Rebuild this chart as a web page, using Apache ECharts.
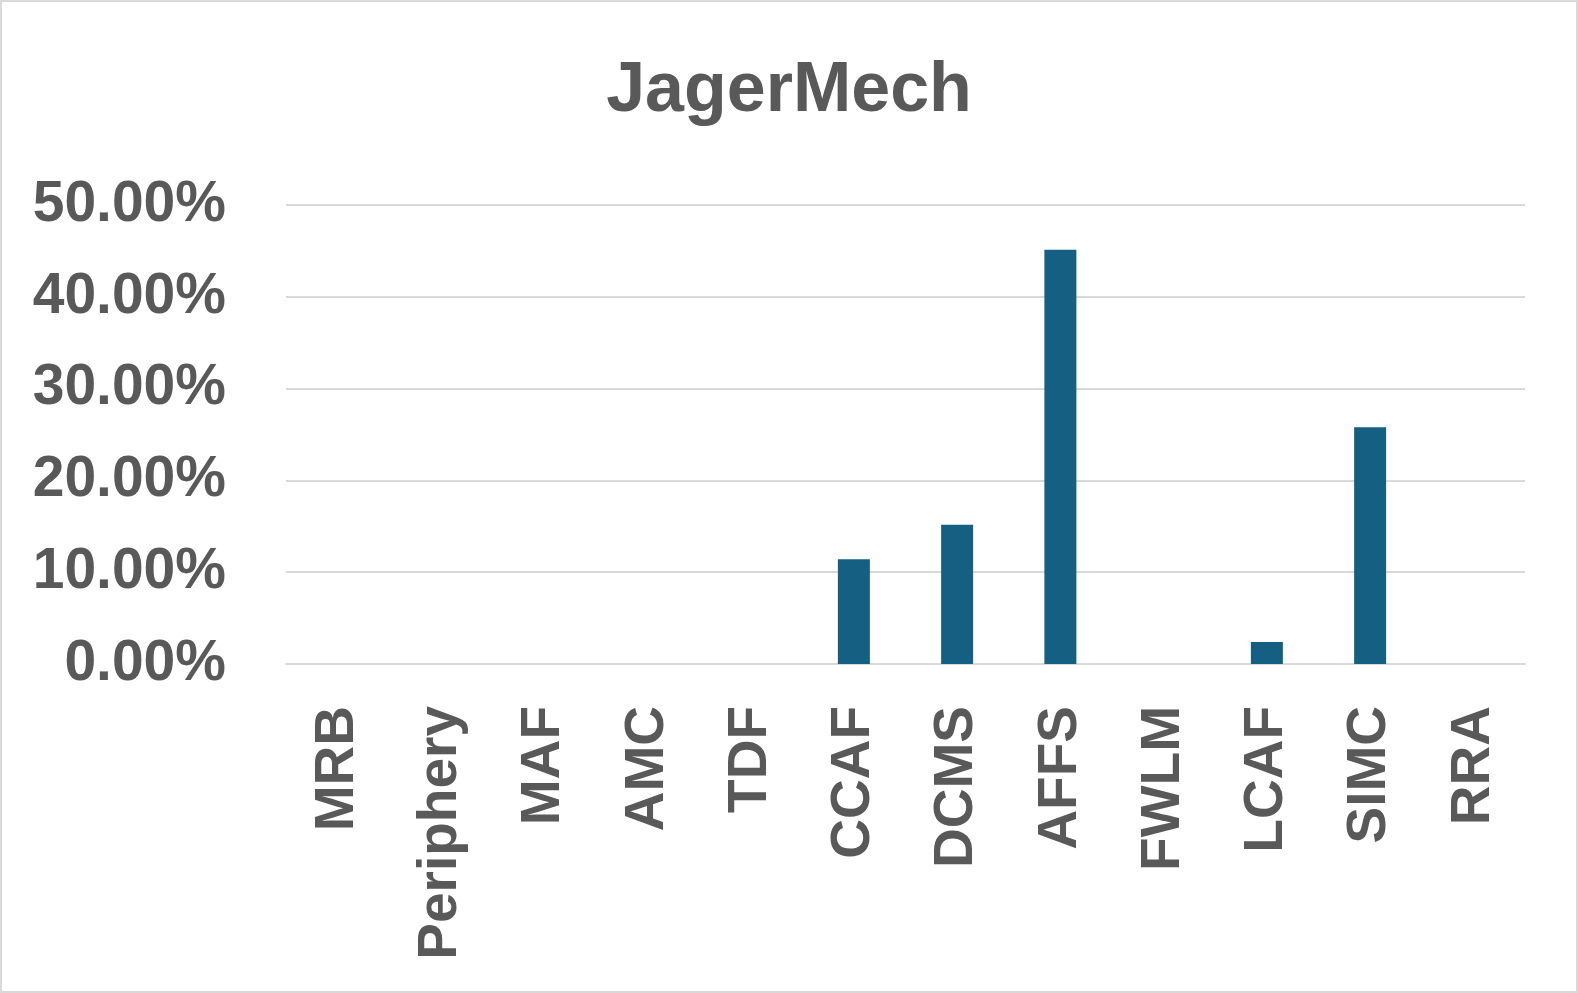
<!DOCTYPE html>
<html>
<head>
<meta charset="utf-8">
<script src="https://cdn.jsdelivr.net/npm/echarts@6/dist/echarts.min.js"></script>
<style>
html,body{margin:0;padding:0;background:#fff;}
#wrap{position:absolute;left:0;top:0;width:1578px;height:993px;box-sizing:border-box;border:2px solid #d9d9d9;}
#c{width:100%;height:100%;}
</style>
</head>
<body>
<div id="wrap"><div id="c"></div></div>
<script>
const titleText = "JagerMech";
const categories = ["MRB","Periphery","MAF","AMC","TDF","CCAF","DCMS","AFFS","FWLM","LCAF","SIMC","RRA"];
const values = [0, 0, 0, 0, 0, 11.40, 15.16, 45.12, 0, 2.39, 25.80, 0];
const yTicks = [0, 10, 20, 30, 40, 50];

const chart = echarts.init(document.getElementById('c'));
chart.setOption({
  animation: false,
  title: {
    text: titleText,
    left: 'center',
    top: 50,
    textStyle: {fontFamily: 'Liberation Sans, Arial', fontWeight: 'bold', fontSize: 70, color: '#595959'}
  },
  grid: {left: 284, right: 51, top: 203, bottom: 327, containLabel: false},
  xAxis: {
    type: 'category',
    data: categories,
    axisLine: {show: true, lineStyle: {color: '#d9d9d9', width: 2}},
    axisTick: {show: false},
    axisLabel: {rotate: 90, interval: 0, margin: 42, color: '#595959', fontFamily: 'Liberation Sans, Arial', fontWeight: 'bold', fontSize: 55}
  },
  yAxis: {
    type: 'value',
    min: yTicks[0],
    max: yTicks[yTicks.length - 1],
    interval: 10,
    axisLine: {show: false},
    axisTick: {show: false},
    splitLine: {lineStyle: {color: '#d9d9d9', width: 2}},
    axisLabel: {margin: 60, color: '#595959', fontFamily: 'Liberation Sans, Arial', fontWeight: 'bold', fontSize: 57,
      formatter: v => v.toFixed(2) + '%'}
  },
  series: [{
    type: 'bar',
    data: values,
    barWidth: 32,
    itemStyle: {color: '#156082'}
  }]
});
</script>
</body>
</html>
